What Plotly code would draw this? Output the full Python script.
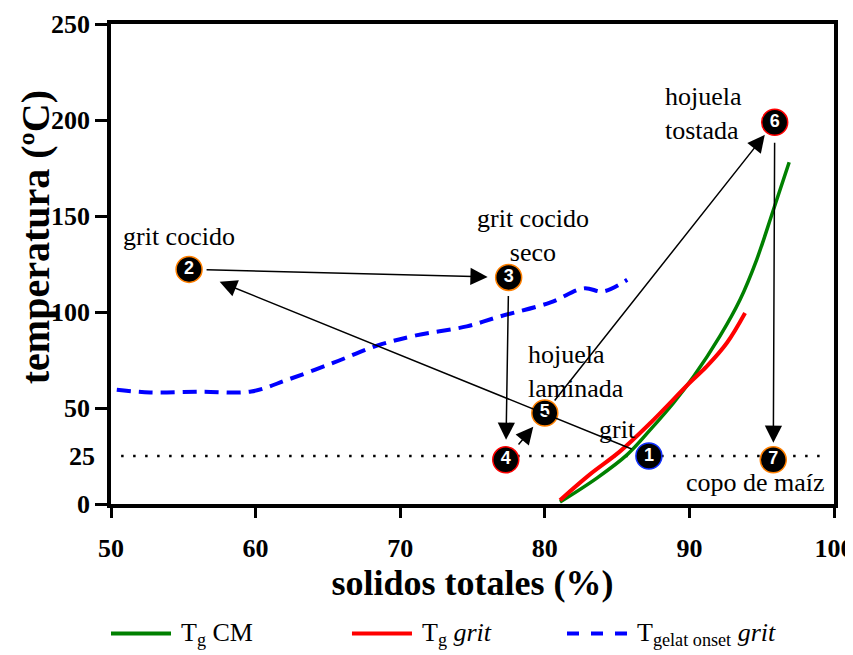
import plotly.graph_objects as go

# Tg of corn masa (CM)
tg_cm_x = [81.05, 83.6, 85.7, 87.3, 88.9, 90.3, 92.1, 93.5, 94.65, 95.8, 96.9]
tg_cm_y = [1.0, 13.5, 25.7, 38.7, 52.6, 66.5, 87.3, 106.4, 127.2, 153, 178]

# Tg of grit
tg_grit_x = [81.05, 83.1, 85.2, 87.3, 90.0, 91.2, 92.6, 93.85]
tg_grit_y = [2.0, 15.3, 27.4, 42.2, 63, 71.7, 84, 99.5]

# gelatinization onset of grit
gel_x = [50.4, 52.7, 56.2, 59.7, 62.2, 65.4, 68.4, 71.1, 74.6, 76.9, 80.4, 82.7, 84.05, 85.7]
gel_y = [59.5, 58.1, 58.5, 58.6, 64.7, 73.6, 82.5, 87.8, 92.5, 97.7, 105, 112.3, 110.7, 116.8]

# process stages
stage_num = ["1", "2", "3", "4", "5", "6", "7"]
stage_x = [87.2, 55.4, 77.5, 77.3, 80.0, 95.9, 95.8]
stage_y = [25, 122.2, 118, 23, 47.4, 198.8, 23]
stage_edge = ["#1030ff", "#ff8000", "#ff8000", "#ff0000", "#ff8000", "#ff0000", "#ff8000"]

# stage labels
lab_text = ["grit", "grit cocido", "grit cocido<br>seco", "hojuela<br>laminada",
            "hojuela<br>tostada", "copo de maíz"]
lab_x = [85.0, 54.7, 79.15, 78.7, 88.2, 94.6]
lab_y = [38.7, 139.2, 140, 69, 203.6, 11.3]
lab_anchor = ["center", "center", "center", "left", "left", "center"]

# process path (from stage, to stage, start gap px, end gap px)
path = [(1, 2, 17, 33), (2, 3, 16, 21), (3, 4, 17, 20), (4, 5, 18, 18),
        (5, 6, 14, 16), (6, 7, 19, 17)]

room_t = 25
room_x = [50.7, 99.3]

SERIF = "Liberation Serif, Times New Roman, serif"

fig = go.Figure()

fig.add_trace(go.Scatter(x=room_x, y=[room_t, room_t], mode="lines",
                         line=dict(color="black", width=2.5, dash="2.5px,9.5px"),
                         showlegend=False, hoverinfo="skip"))
fig.add_trace(go.Scatter(x=gel_x, y=gel_y, mode="lines", line_shape="spline",
                         line=dict(color="#0000ff", width=4, dash="14px,8px"),
                         showlegend=False))
fig.add_trace(go.Scatter(x=tg_cm_x, y=tg_cm_y, mode="lines", line_shape="spline",
                         line=dict(color="#008000", width=3.5), showlegend=False))
fig.add_trace(go.Scatter(x=tg_grit_x, y=tg_grit_y, mode="lines", line_shape="spline",
                         line=dict(color="#ff0000", width=4), showlegend=False))

for a, b, s0, s1 in path:
    fig.add_annotation(x=stage_x[b - 1], y=stage_y[b - 1],
                       ax=stage_x[a - 1], ay=stage_y[a - 1],
                       xref="x", yref="y", axref="x", ayref="y",
                       text="", showarrow=True, arrowhead=2, arrowsize=2.3,
                       arrowwidth=1.5, arrowcolor="black",
                       startstandoff=s0, standoff=s1)

fig.add_trace(go.Scatter(
    x=stage_x, y=stage_y, mode="markers+text", text=stage_num,
    textposition="middle center",
    textfont=dict(family="Liberation Sans, Arial", size=18, color="white", weight="bold"),
    marker=dict(size=26, color="black", line=dict(color=stage_edge, width=1.5)),
    showlegend=False))

for t, x, y, anc in zip(lab_text, lab_x, lab_y, lab_anchor):
    fig.add_annotation(x=x, y=y, text=t, showarrow=False, xanchor=anc, align=anc,
                       font=dict(family=SERIF, size=26, color="black"))

# "25" label has no tick mark in the original
fig.add_annotation(x=0, y=room_t, xref="paper", yref="y", text="<b>25</b>",
                   showarrow=False, xanchor="right", xshift=-14,
                   font=dict(family=SERIF, size=26, color="black"))

# y title
fig.add_annotation(x=-0.105, y=0.556, xref="paper", yref="paper",
                   xanchor="center", yanchor="middle",
                   text="<b>temperatura (ºC)</b>", textangle=-90, showarrow=False,
                   font=dict(family=SERIF, size=40, color="black"))

# legend drawn under the plot
leg = [("#008000", "solid", 0.0, "T<sub>g</sub> CM"),
       ("#ff0000", "solid", 0.3333, "T<sub>g</sub> <i>grit</i>"),
       ("#0000ff", "dash", 0.6307, "T<sub>gelat onset</sub> <i>grit</i>")]
for col, dash, x0, txt in leg:
    fig.add_shape(type="line", xref="paper", yref="paper", x0=x0, x1=x0 + 0.083,
                  y0=-0.27, y1=-0.27, line=dict(color=col, width=4, dash=dash))
    fig.add_annotation(x=x0 + 0.094, y=-0.27, xref="paper", yref="paper", text=txt,
                       showarrow=False, xanchor="left", yanchor="middle",
                       font=dict(family=SERIF, size=26, color="black"))

axis = dict(showline=True, linewidth=3.5, linecolor="black", mirror=True,
            ticks="outside", tickwidth=3, tickcolor="black", showgrid=False,
            zeroline=False, automargin=False, ticklabeloverflow="allow",
            tickfont=dict(family=SERIF, size=26, color="black", weight="bold"))

# the page body adds an 8px offset, so the figure is 8px smaller and shifted
fig.update_layout(
    width=845, height=647,
    margin=dict(l=103, r=19, t=16, b=151),
    plot_bgcolor="white", paper_bgcolor="white",
    xaxis=dict(**axis, range=[50, 100], tickvals=[50, 60, 70, 80, 90, 100],
               ticklen=10, ticklabelstandoff=8,
               title=dict(text="solidos totales (%)", standoff=4,
                          font=dict(family=SERIF, size=36, color="black", weight="bold"))),
    yaxis=dict(**axis, range=[0, 250], tickvals=[0, 50, 100, 150, 200, 250],
               ticklen=12),
    showlegend=False,
)

fig.write_html("out.html")
